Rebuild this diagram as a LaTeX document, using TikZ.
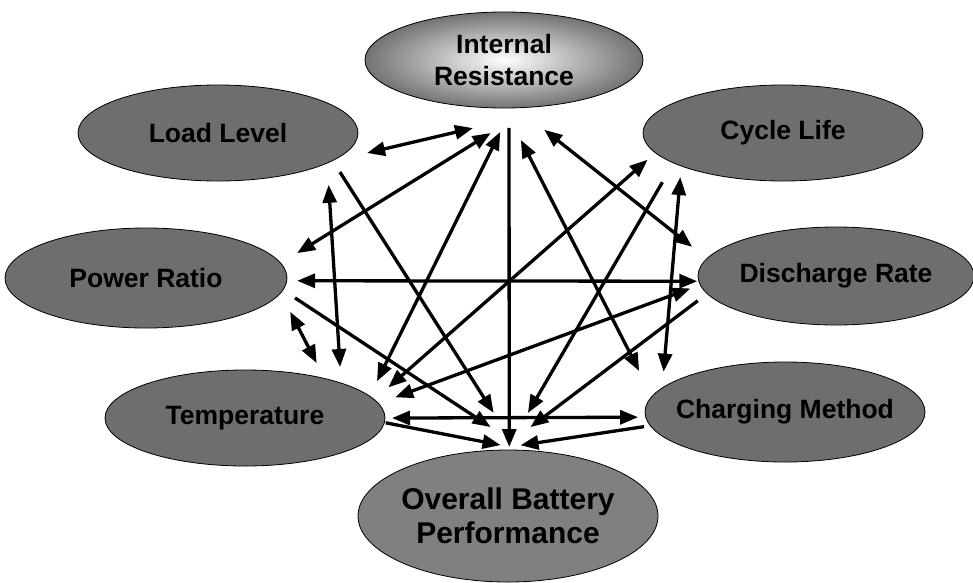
\documentclass[tikz,border=0pt]{standalone}
\usepackage{fontspec}
\setmainfont{Liberation Sans}
\usetikzlibrary{shapes.geometric, arrows.meta}

\newcommand{\ctext}[1]{\makebox[0pt]{#1}}

\begin{document}
\begin{tikzpicture}[
            x=1pt, y=-1pt,
            factor/.style={ellipse, draw=black, line width=0.8pt, fill=black!57, inner sep=0pt, align=center, font=\fontsize{26.5}{32}\selectfont\bfseries},
            arrow/.style={-{Triangle[length=18pt, width=14pt]}, line width=3.3pt},
            dblarrow/.style={{Triangle[length=18pt, width=14pt]}-{Triangle[length=18pt, width=14pt]}, line width=3.3pt},
            gap/.style 2 args={shorten <=#1pt, shorten >=#2pt}
        ]
    \useasboundingbox (0,0) rectangle (973,582);

    \node[factor, minimum width=278pt, minimum height=96pt, outer sep=24pt, shading=radial, inner color=white, outer color=black!55] (ir) at (504,60) {\ctext{Internal}\\\ctext{Resistance}};
    \node[factor, minimum width=280pt, minimum height=96pt, outer sep=20pt] (ll) at (218,133) {\ctext{Load Level}};
    \node[factor, minimum width=282pt, minimum height=100pt, outer sep=18pt] (pr) at (146,278) {\ctext{Power Ratio}};
    \node[factor, minimum width=280pt, minimum height=96pt, outer sep=20pt] (te) at (245,418) {\ctext{Temperature}};
    \node[factor, minimum width=280pt, minimum height=96pt, outer sep=16pt] (cl) at (783,133) {\ctext{Cycle Life}};
    \node[factor, minimum width=276pt, minimum height=98pt, outer sep=12pt] (dr) at (836,276) {\ctext{Discharge Rate}};
    \node[factor, minimum width=280pt, minimum height=100pt, outer sep=10pt] (cm) at (785,412) {\ctext{Charging Method}};
    \node[factor, fill=black!50, minimum width=300pt, minimum height=132pt, outer sep=5pt, font=\fontsize{30}{34}\selectfont\bfseries] (ob) at (508,516) {\ctext{Overall Battery}\\\ctext{Performance}};

    \draw[dblarrow, gap={-4.8}{-7.9}] (ll.-7) -- (ir.-119.6);
    \draw[dblarrow, gap={2.4}{2.3}] (pr.9) -- (ir.-99.6);
    \draw[dblarrow, gap={-1.4}{0}] (te.16.7) -- (ir.-93.2);
    \draw[arrow, gap={-4}{-2}] (ir.-86) -- (ob.89.2);
    \draw[dblarrow, gap={9.2}{18.9}] (ir.-80.7) -- (cm.170.5);
    \draw[dblarrow, gap={0}{7.9}] (ir.-60.9) -- (dr.170.1);
    \draw[dblarrow, gap={-4.1}{0.4}] (cl.-168) -- (te.12.1);
    \draw[arrow, gap={7.8}{37.1}] (cl.-160.1) -- (ob.89.8);
    \draw[dblarrow, gap={-4}{5.4}] (cl.-155.1) -- (cm.164.2);
    \draw[dblarrow, gap={2.6}{-3.8}] (ll.-24.2) -- (te.30);
    \draw[arrow, gap={-4.5}{38.2}] (ll.-19.7) -- (ob.85.4);
    \draw[dblarrow, gap={4}{-7.4}] (pr.-12.1) -- (te.42.3);
    \draw[dblarrow, gap={-7.7}{-10.7}] (pr.-1.4) -- (dr.-178.5);
    \draw[arrow, gap={-2.4}{32.9}] (pr.-8) -- (ob.82.4);
    \draw[dblarrow, gap={-1.8}{-1}] (te.8.1) -- (dr.-175.2);
    \draw[arrow, gap={0.8}{29.7}] (dr.-170.4) -- (ob.91.4);
    \draw[dblarrow, gap={-13}{-2.5}] (te.0.4) -- (cm.-178.1);
    \draw[arrow, gap={-18.5}{0}] (te.-3.6) -- (ob.96.3);
    \draw[arrow, gap={-4.1}{0}] (cm.-174.7) -- (ob.80.7);

\end{tikzpicture}
\end{document}
